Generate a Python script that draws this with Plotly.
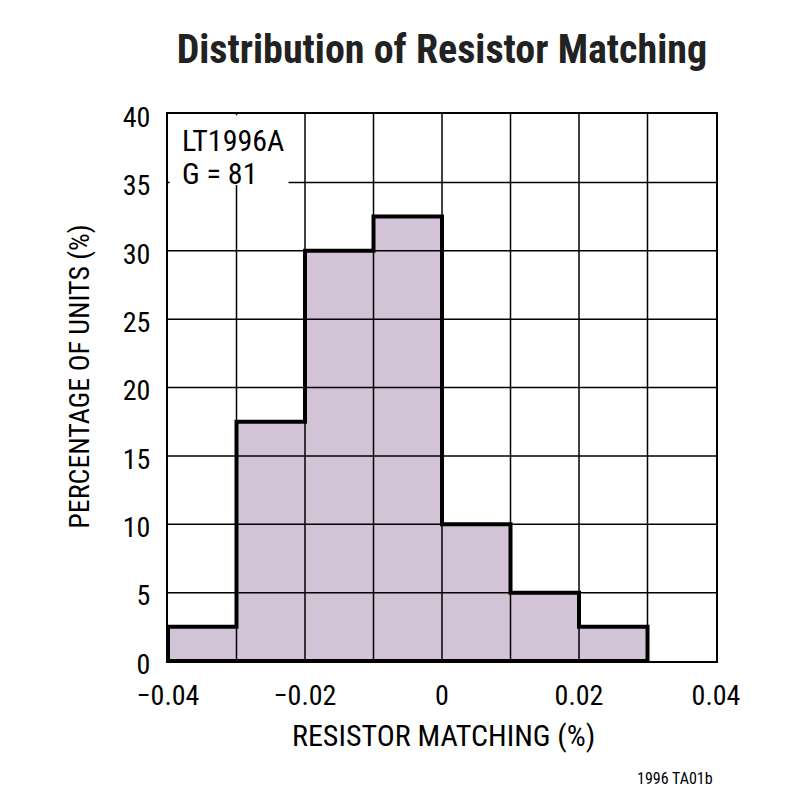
import plotly.graph_objects as go

bin_left = [-0.04, -0.03, -0.02, -0.01, 0.0, 0.01, 0.02]
bin_width = 0.01
percent = [2.5, 17.5, 30, 32.5, 10, 5, 2.5]

x_ticks = [-0.04, -0.02, 0, 0.02, 0.04]
x_ticktext = ["\u22120.04", "\u22120.02", "0", "0.02", "0.04"]
x_grid = [-0.03, -0.02, -0.01, 0.0, 0.01, 0.02, 0.03]
y_ticks = [0, 5, 10, 15, 20, 25, 30, 35, 40]
y_grid = [5, 10, 15, 20, 25, 30, 35]

FONT = "Liberation Sans Narrow, Roboto Condensed, Arial Narrow, Liberation Sans"
FILL = "#d3c3d6"

centers = [l + bin_width / 2 for l in bin_left]

fig = go.Figure()
fig.add_trace(go.Bar(x=centers, y=percent, width=[bin_width] * len(percent),
                     marker=dict(color=FILL, line=dict(width=0)), showlegend=False))

# step outline
ox = [bin_left[0]]
oy = [0]
for l, v in zip(bin_left, percent):
    ox += [l, l + bin_width]
    oy += [v, v]
ox += [bin_left[-1] + bin_width, bin_left[0]]
oy += [0, 0]
fig.add_trace(go.Scatter(x=ox, y=oy, mode="lines",
                         line=dict(color="black", width=4), showlegend=False))

shapes = []
for gx in x_grid:
    shapes.append(dict(type="line", xref="x", yref="paper", x0=gx, x1=gx, y0=0, y1=1,
                       line=dict(color="black", width=1.5), layer="above"))
for gy in y_grid:
    shapes.append(dict(type="line", xref="paper", yref="y", x0=0, x1=1, y0=gy, y1=gy,
                       line=dict(color="black", width=1.5), layer="above"))
# white label box
shapes.append(dict(type="rect", xref="paper", yref="y", x0=0.003, x1=0.22, y0=34.8, y1=39.9,
                   fillcolor="white", line=dict(width=0), layer="above"))
fig.update_layout(shapes=shapes)

fig.add_annotation(x=0.022, y=0.952, xref="paper", yref="paper", xanchor="left", yanchor="middle",
                   text="LT1996A", showarrow=False, font=dict(family=FONT, size=30, color="black"))
fig.add_annotation(x=0.022, y=0.892, xref="paper", yref="paper", xanchor="left", yanchor="middle",
                   text="G = 81", showarrow=False, font=dict(family=FONT, size=30, color="black"))
fig.add_annotation(x=0.503, y=-0.137, xref="paper", yref="paper", xanchor="center", yanchor="middle",
                   text="RESISTOR MATCHING (%)", showarrow=False,
                   font=dict(family=FONT, size=30, color="black"))
fig.add_annotation(x=-0.162, y=0.52, xref="paper", yref="paper", xanchor="center", yanchor="middle",
                   text="PERCENTAGE OF UNITS (%)", textangle=-90, showarrow=False,
                   font=dict(family=FONT, size=28, color="black"))
fig.add_annotation(x=0.998, y=-0.214, xref="paper", yref="paper", xanchor="right", yanchor="middle",
                   text="1996 TA01b", showarrow=False, font=dict(family=FONT, size=16, color="black"))

fig.update_layout(
    width=802, height=802,
    margin=dict(l=160, r=94, t=106, b=149),
    paper_bgcolor="white", plot_bgcolor="white",
    title=dict(text="<b>Distribution of Resistor Matching</b>", x=0.541, xanchor="center",
               y=0.949, yanchor="middle", font=dict(family=FONT, size=40, color="#222222")),
    font=dict(family=FONT, color="black"),
    bargap=0,
    xaxis=dict(range=[-0.04, 0.04], tickvals=x_ticks, ticktext=x_ticktext,
               showgrid=False, zeroline=False, showline=True, linecolor="black", linewidth=2,
               mirror=True, ticks="", tickfont=dict(size=28), ticklabelstandoff=8),
    yaxis=dict(range=[0, 40], tickvals=y_ticks, showgrid=False, zeroline=False,
               showline=True, linecolor="black", linewidth=2, mirror=True, ticks="",
               tickfont=dict(size=28), ticklabelstandoff=10, ticklabelshift=3),
)

fig.write_html("out.html")
